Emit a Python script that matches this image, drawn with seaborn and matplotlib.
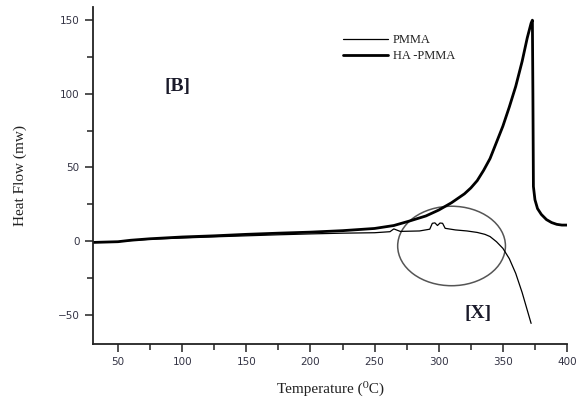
import numpy as np
import pandas as pd
import matplotlib
matplotlib.use("Agg")
import matplotlib.pyplot as plt
from matplotlib.patches import Ellipse
from matplotlib.ticker import MultipleLocator
import seaborn as sns

# DSC traces: temperature (deg C) vs heat flow (mW)
ha_temp = [30, 50, 60, 75, 100, 125, 150, 175, 200, 225, 250, 265, 277, 290, 300,
           310, 320, 325, 330, 335, 340, 345, 350, 355, 360, 365, 369, 372, 373,
           373.4, 373.8, 375, 377, 380, 384, 388, 392, 396, 400]
ha_flow = [-1, -0.5, 0.5, 1.5, 2.7, 3.5, 4.5, 5.3, 6.0, 7.0, 8.5, 10.5, 13.5, 17, 21,
           26, 32, 36, 41, 48, 56, 67, 78, 91, 105, 122, 138, 148, 150,
           100, 37, 28, 22, 18, 14.5, 12.5, 11.3, 10.8, 10.8]

pmma_temp = [30, 50, 60, 75, 100, 125, 150, 175, 200, 225, 250, 262, 265, 270, 285,
             293, 295, 297, 299, 301, 303, 305, 313, 322, 330, 336, 340, 345, 350,
             355, 360, 365, 370, 372]
pmma_flow = [-1, -0.5, 0.3, 1.2, 2.0, 2.8, 3.5, 4.2, 4.8, 5.3, 5.6, 6.3, 8.2, 6.5, 6.8,
             8.0, 12.0, 12.3, 10.5, 12.2, 12.0, 8.6, 7.5, 6.8, 5.8, 4.5, 3.0, -0.5, -5,
             -12, -22, -35, -50, -56]

series_names = ["PMMA", "HA -PMMA"]
x_ticks = [50, 100, 150, 200, 250, 300, 350, 400]
y_ticks = [-50, 0, 50, 100, 150]

df = pd.concat([
    pd.DataFrame({"Temperature": pmma_temp, "Heat Flow": pmma_flow, "Sample": series_names[0]}),
    pd.DataFrame({"Temperature": ha_temp, "Heat Flow": ha_flow, "Sample": series_names[1]}),
])

sns.set_style("ticks")
serif = ["Liberation Serif", "DejaVu Serif"]

fig = plt.figure(figsize=(5.83, 3.97), dpi=100)
ax = fig.add_axes([0.1595, 0.1335, 0.8131, 0.849])

widths = {series_names[0]: 0.9, series_names[1]: 2.0}
for name in series_names:
    sub = df[df["Sample"] == name]
    sns.lineplot(data=sub, x="Temperature", y="Heat Flow", ax=ax, sort=False,
                 color="black", linewidth=widths[name], label=name)

ax.set_xlim(30.5, 400)
ax.set_ylim(-70, 159)
ax.set_xticks(x_ticks)
ax.set_yticks(y_ticks)
ax.xaxis.set_minor_locator(MultipleLocator(25))
ax.yaxis.set_minor_locator(MultipleLocator(25))
ax.tick_params(which="major", direction="out", length=6, width=1.1,
               labelsize=7.5, labelcolor="#333344", color="#222222")
ax.tick_params(which="minor", direction="out", length=4, width=1.1, color="#222222")

for side in ["top", "right"]:
    ax.spines[side].set_visible(False)
for side in ["left", "bottom"]:
    ax.spines[side].set_linewidth(1.3)
    ax.spines[side].set_color("#222222")

ax.set_xlabel("Temperature (\u2070C)", family=serif, fontsize=11, color="#222222", labelpad=10)
ax.set_ylabel("Heat Flow (mw)", family=serif, fontsize=11, color="#222222", labelpad=22)

# highlight of the region where the two traces separate
ax.add_patch(Ellipse((310, -3.4), 84, 54, fill=False, edgecolor="#555555", linewidth=1.1))

ax.text(96, 105, "[B]", family=serif, fontsize=14, fontweight="bold",
        color="#1a1a2a", ha="center", va="center")
ax.text(331, -49, "[X]", family=serif, fontsize=14, fontweight="bold",
        color="#1a1a2a", ha="center", va="center")

leg = ax.legend(loc="upper left", bbox_to_anchor=(0.527, 0.92), frameon=False,
                borderpad=0, borderaxespad=0, handlelength=3.6, handletextpad=0.4,
                labelspacing=0.35, prop={"family": serif, "size": 9})
for t in leg.get_texts():
    t.set_color("#222222")

fig.savefig("out.png", dpi=100)
